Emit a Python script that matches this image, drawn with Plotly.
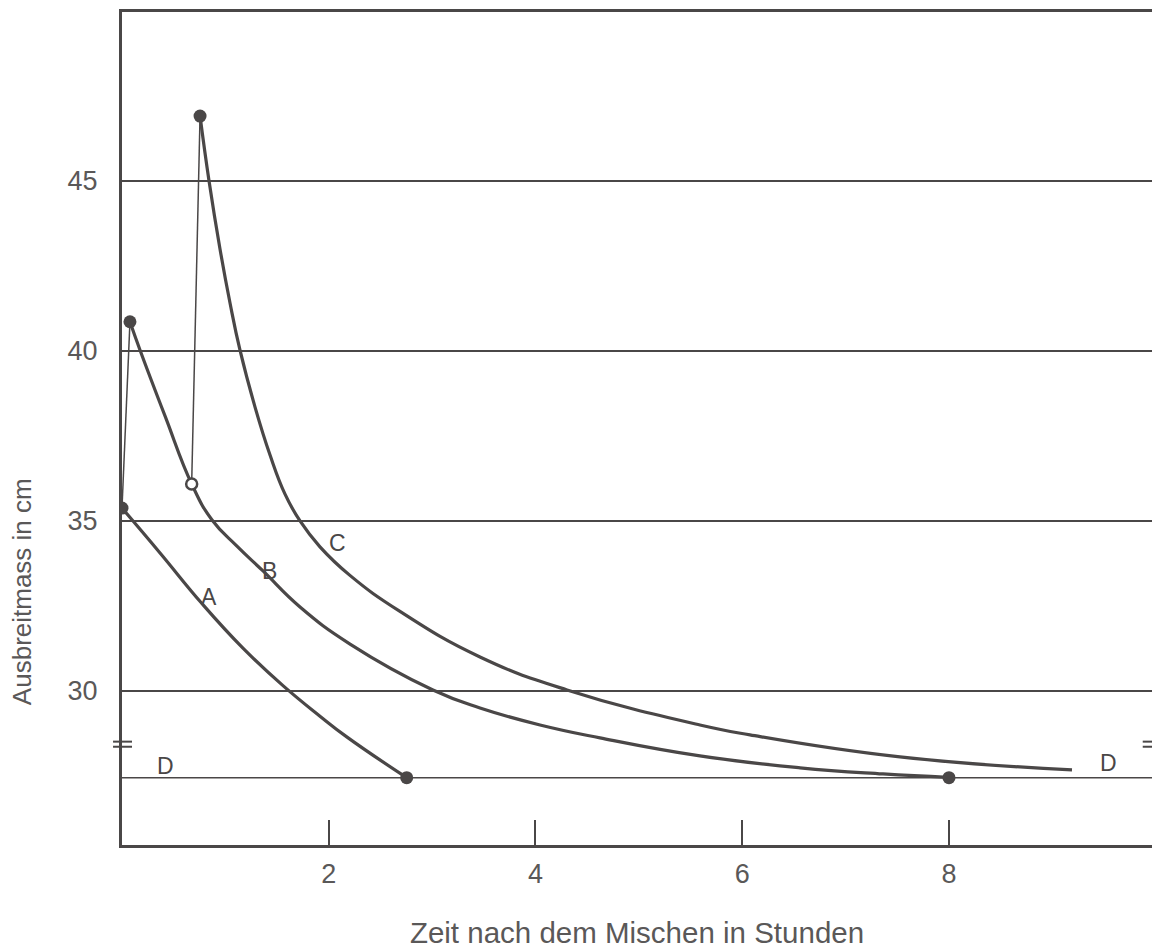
import plotly.graph_objects as go

# ---- data ----
a_x = [0.0, 0.368, 0.771, 1.170, 1.560, 1.915, 2.174, 2.754]
a_y = [35.38, 34.06, 32.58, 31.26, 30.15, 29.26, 28.65, 27.45]

b_x = [0.077, 0.174, 0.416, 0.674, 0.871, 1.112, 1.364, 1.722, 2.206, 3.008, 3.463, 4.044, 4.624, 5.591, 6.559, 7.362, 7.99]
b_y = [40.86, 40.03, 38.09, 36.09, 35.03, 34.26, 33.53, 32.47, 31.38, 30.03, 29.5, 29.0, 28.62, 28.09, 27.74, 27.56, 27.46]

c_x = [0.755, 0.842, 0.948, 1.045, 1.141, 1.287, 1.432, 1.577, 1.722, 1.915, 2.205, 2.689, 3.463, 4.305, 5.591, 6.075, 7.526, 9.19]
c_y = [46.91, 45.0, 43.0, 41.41, 40.03, 38.35, 36.94, 35.79, 35.0, 34.24, 33.40, 32.34, 31.0, 30.03, 29.0, 28.71, 28.06, 27.68]

rise1_x = [0.0, 0.077]
rise1_y = [35.38, 40.86]
rise2_x = [0.674, 0.755]
rise2_y = [36.09, 46.91]

d_x = [0.0, 10.0]
d_y = [27.45, 27.45]

dot_x = [0.0, 0.077, 0.755, 2.754, 8.0]
dot_y = [35.38, 40.86, 46.91, 27.45, 27.45]
open_x = [0.674]
open_y = [36.09]

label_text = ["A", "B", "C", "D", "D"]
label_x = [0.84, 1.43, 2.08, 0.42, 9.54]
label_y = [32.76, 33.53, 34.35, 27.8, 27.88]

x_ticks = [2, 4, 6, 8]
y_ticks = [30, 35, 40, 45]

INK = "#4a4747"
TXT = "#5a5858"
FONT = "Liberation Sans, Arial, sans-serif"

fig = go.Figure()

fig.add_trace(go.Scatter(x=d_x, y=d_y, mode="lines",
                         line=dict(color=INK, width=1.5), hoverinfo="skip"))
fig.add_trace(go.Scatter(x=rise1_x, y=rise1_y, mode="lines",
                         line=dict(color=INK, width=1.5)))
fig.add_trace(go.Scatter(x=rise2_x, y=rise2_y, mode="lines",
                         line=dict(color=INK, width=1.5)))
for xs, ys in [(a_x, a_y), (b_x, b_y), (c_x, c_y)]:
    fig.add_trace(go.Scatter(x=xs, y=ys, mode="lines",
                             line=dict(color=INK, width=3.2, shape="spline", smoothing=1.3)))
fig.add_trace(go.Scatter(x=dot_x, y=dot_y, mode="markers",
                         marker=dict(color=INK, size=13, line=dict(width=0))))
fig.add_trace(go.Scatter(x=open_x, y=open_y, mode="markers",
                         marker=dict(color="white", size=11, symbol="circle",
                                     line=dict(color=INK, width=2.5))))

for t, x, y in zip(label_text, label_x, label_y):
    fig.add_annotation(x=x, y=y, text=t, showarrow=False,
                       font=dict(family=FONT, size=23, color=INK))

# y-axis title (placed low, as in the reference)
fig.add_annotation(xref="paper", yref="y", x=-0.097, y=32.91, xanchor="center",
                   yanchor="middle", text="Ausbreitmass in cm", textangle=-90,
                   showarrow=False, font=dict(family=FONT, size=26, color=TXT))

# axis break marks
for y in (28.51, 28.36):
    fig.add_shape(type="line", xref="paper", yref="y", x0=-0.0087, x1=0.0097,
                  y0=y, y1=y, line=dict(color=INK, width=2))
    fig.add_shape(type="line", xref="paper", yref="y", x0=0.991, x1=1.01,
                  y0=y, y1=y, line=dict(color=INK, width=2))

fig.update_layout(
    width=1152, height=951,
    margin=dict(l=122, r=0, t=12, b=106),
    paper_bgcolor="white", plot_bgcolor="white",
    showlegend=False,
    font=dict(family=FONT, color=TXT),
    xaxis=dict(range=[0, 9.964], tickvals=x_ticks, ticks="inside", ticklen=25,
               tickwidth=2, tickcolor=INK, showgrid=False, zeroline=False,
               showline=True, mirror=True, linewidth=3, linecolor=INK,
               tickfont=dict(size=27, color=TXT), ticklabelstandoff=3,
               title=dict(text="Zeit nach dem Mischen in Stunden",
                          font=dict(size=29.5, color=TXT), standoff=34)),
    yaxis=dict(range=[25.47, 49.97], tickvals=y_ticks, ticks="",
               showgrid=True, gridcolor=INK, gridwidth=1.5, zeroline=False,
               showline=True, mirror=False, linewidth=3, linecolor=INK,
               tickfont=dict(size=27, color=TXT), ticklabelstandoff=16),
)

fig.write_html("out.html", config={"displayModeBar": False},
               post_script="document.body.style.margin='0';document.body.style.overflow='hidden';")
